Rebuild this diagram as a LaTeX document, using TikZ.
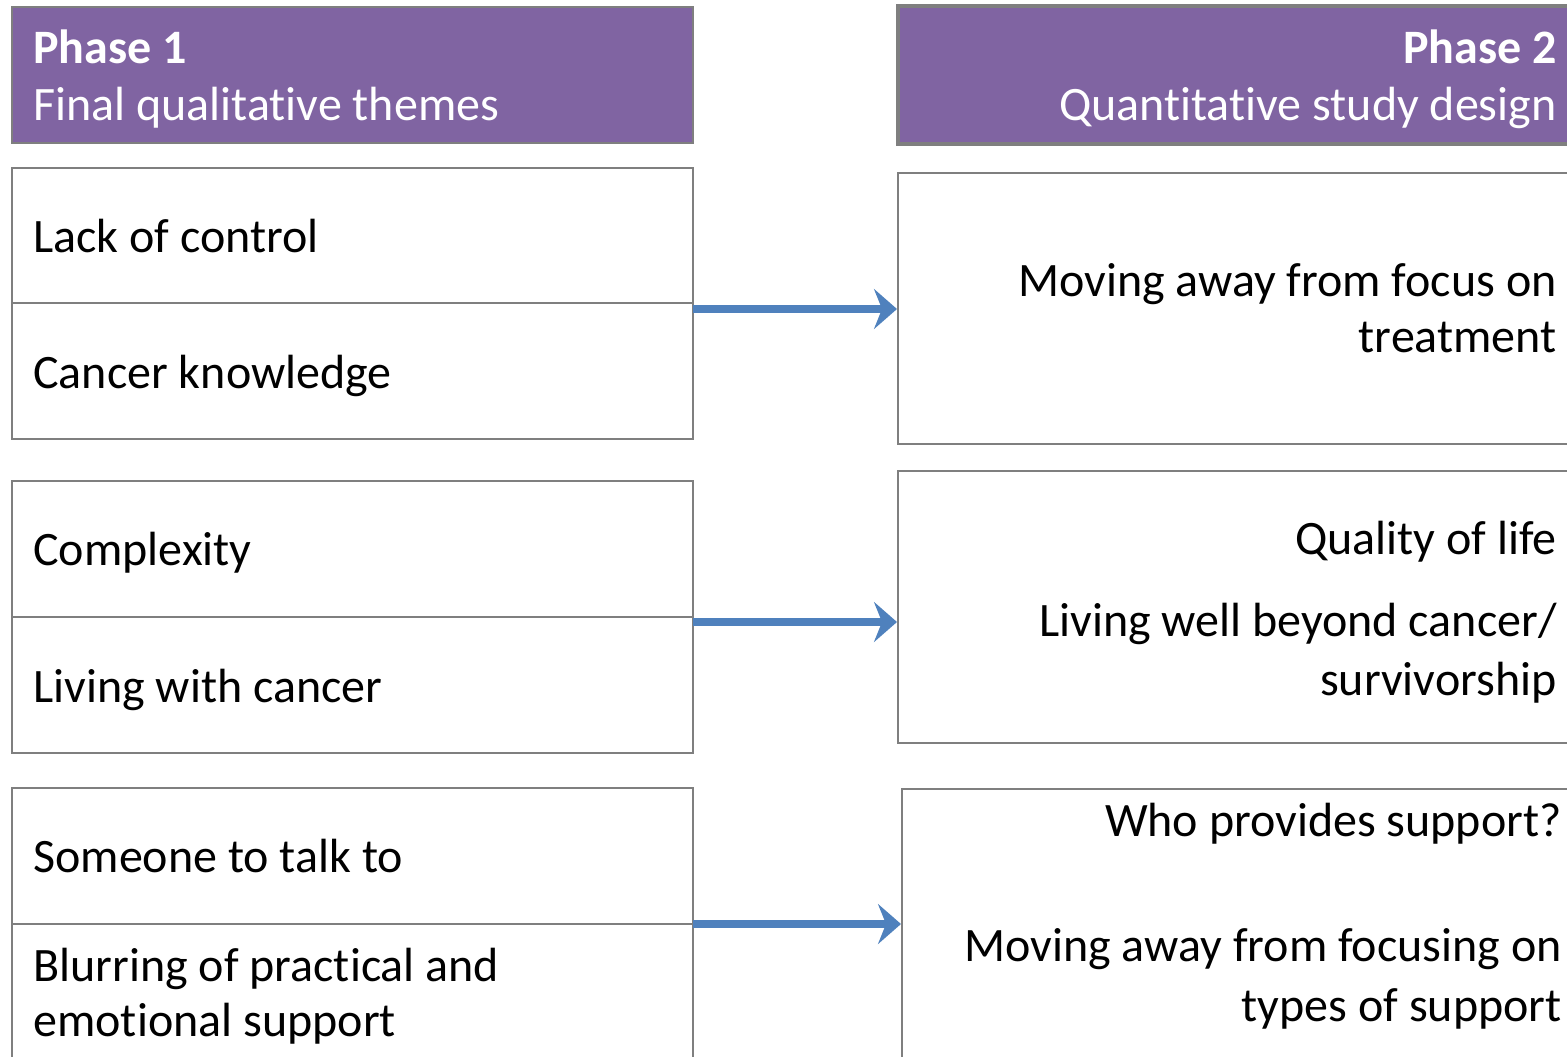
\documentclass[tikz,border=0pt]{standalone}
\usepackage{fontspec}
\setmainfont[Ligatures={NoCommon,NoRare,NoRequired,NoContextual}, Contextuals=NoAlternate]{Carlito}
\usetikzlibrary{arrows.meta}
\definecolor{hdpurple}{HTML}{8064A2}
\definecolor{bordergray}{HTML}{7F7F7F}
\definecolor{arrowblue}{HTML}{4F81BD}
\tikzset{
  header/.style={rectangle, draw=bordergray, fill=hdpurple, line width=0.8pt, inner sep=0pt},
  themebox/.style={rectangle, draw=bordergray, line width=1pt, fill=white, inner sep=0pt, minimum width=340.5pt, minimum height=68pt},
  designbox/.style={rectangle, draw=bordergray, line width=1pt, fill=white, inner sep=0pt, minimum width=346pt},
  txt/.style={inner sep=0pt, font=\fontsize{24}{28.5}\selectfont},
  hdtxt/.style={txt, text=white},
  arr/.style={-{Stealth[length=11.5pt, width=20pt, inset=4pt]}, draw=arrowblue, line width=3.6pt}
}
\begin{document}
\begin{tikzpicture}[x=0.5pt, y=-0.5pt]
            \useasboundingbox (0, 0) rectangle (1567, 1056);
            \clip (0, 0) rectangle (1567, 1056);
            \node[header, minimum width=340.5pt, minimum height=68pt] (phaseA) at (352.5, 75) {};
            \node[header, line width=1.8pt, minimum width=346pt, minimum height=69pt] (phaseB) at (1244, 75) {};
            \node[hdtxt, anchor=base west, font=\fontsize{24}{28.5}\selectfont\bfseries] (phaseAt) at (33, 63) {Phase 1};
            \node[hdtxt, anchor=base west] (phaseAs) at (33, 120) {Final qualitative themes};
            \node[hdtxt, anchor=base east, font=\fontsize{24}{28.5}\selectfont\bfseries] (phaseBt) at (1557, 63) {Phase 2};
            \node[hdtxt, anchor=base east] (phaseBs) at (1557, 120) {Quantitative study design};

            \node[themebox] (lack) at (352.5, 235.5) {};
            \node[themebox] (know) at (352.5, 371) {};
            \node[themebox] (cplx) at (352.5, 549) {};
            \node[themebox] (live) at (352.5, 685) {};
            \node[themebox] (talk) at (352.5, 856) {};
            \node[themebox] (blur) at (352.5, 992) {};
            \node[txt, anchor=base west] (lackt) at (33, 252) {Lack of control};
            \node[txt, anchor=base west] (knowt) at (33, 388) {Cancer knowledge};
            \node[txt, anchor=base west] (cplxt) at (33, 565) {Complexity};
            \node[txt, anchor=base west] (livet) at (33, 702) {Living with cancer};
            \node[txt, anchor=base west] (talkt) at (33, 872) {Someone to talk to};
            \node[txt, anchor=base west] (blurt) at (33, 981) {Blurring of practical and};
            \node[txt, anchor=base west] (blurs) at (33, 1036) {emotional support};

            \node[designbox, minimum height=135.5pt] (focus) at (1244, 308.5) {};
            \node[designbox, minimum height=136pt] (qol) at (1244, 607) {};
            \node[designbox, minimum height=155.5pt] (supp) at (1248, 944.5) {};
            \node[txt, anchor=base east] (focust) at (1557, 296) {Moving away from focus on};
            \node[txt, anchor=base east] (focuss) at (1557, 352) {treatment};
            \node[txt, anchor=base east] (qolt) at (1557, 554) {Quality of life};
            \node[txt, anchor=base east] (wellt) at (1557, 636) {Living well beyond cancer/};
            \node[txt, anchor=base east] (wells) at (1557, 695) {survivorship};
            \node[txt, anchor=base east] (whot) at (1562, 836) {Who provides support?};
            \node[txt, anchor=base east] (typet) at (1562, 961) {Moving away from focusing on};
            \node[txt, anchor=base east] (types) at (1562, 1021) {types of support};

            \coordinate (a1) at (693, 309);
            \coordinate (a2) at (693, 622);
            \coordinate (a3) at (693, 924);
            \draw[arr] (a1) -- (a1 -| focus.west);
            \draw[arr] (a2) -- (a2 -| qol.west);
            \draw[arr] (a3) -- (a3 -| supp.west);
        \end{tikzpicture}
\end{document}
